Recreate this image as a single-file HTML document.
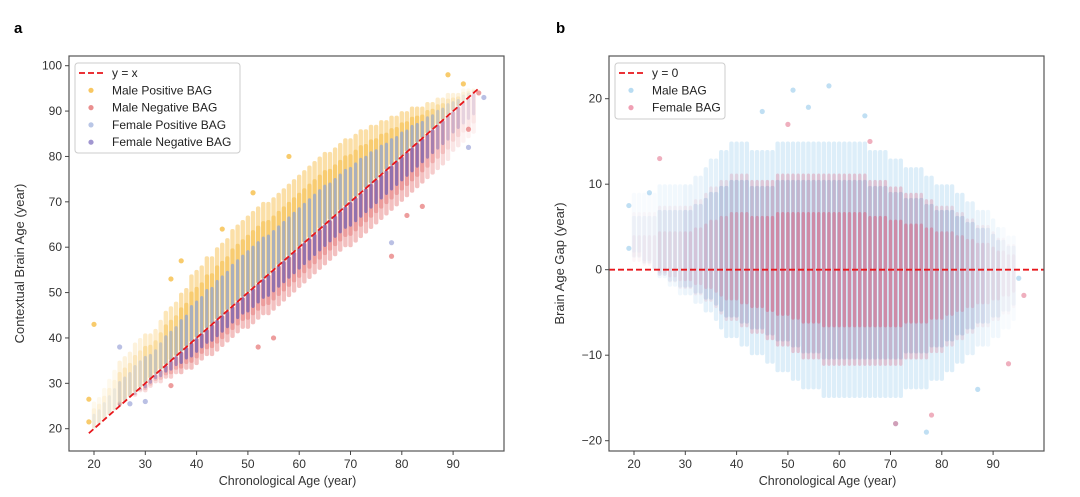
<!DOCTYPE html>
<html><head><meta charset="utf-8">
<style>
html,body{margin:0;padding:0;background:#fff;}
svg{display:block;font-family:"Liberation Sans","DejaVu Sans",sans-serif;}
</style></head>
<body>
<svg id="fig" width="1080" height="497" viewBox="0 0 1080 497">
<text x="14" y="33" font-size="15" font-weight="bold">a</text>
<text x="556" y="33" font-size="15" font-weight="bold">b</text>
<g id="pa"></g>
<g id="pb"></g>
</svg>
<script>
// shared ages (integer)
const ages=[20,21,22,23,24,25,26,27,28,29,30,31,32,33,34,35,36,37,38,39,40,41,42,43,44,45,46,47,48,49,50,51,52,53,54,55,56,57,58,59,60,61,62,63,64,65,66,67,68,69,70,71,72,73,74,75,76,77,78,79,80,81,82,83,84,85,86,87,88,89,90,91,92,93,94];
const counts=[1,1,1,1,1,2,2,2,2,2,3,3,3,3,4,4,4,5,5,6,6,7,7,8,8,8,9,9,9,10,10,10,10,10,10,10,10,10,10,10,10,10,10,10,10,10,10,10,10,10,10,10,10,9,9,9,8,8,8,7,7,6,6,5,5,4,4,3,3,2,2,2,1,1,1];
// panel a: upper edge of positive BAG, lower edge of negative BAG
const posHi=[26,27,29,31,33,35,36,37,39,40,41,41,42,44,46,47,48,50,51,54,55,56,58,58,60,61,62,64,65,66,67,68,69,70,70,71,72,73,74,75,76,77,78,79,80,81,81,82,83,84,84,85,86,86,87,87,88,88,89,89,90,90,91,91,91,92,92,93,93,94,94,94,95,95,95];
const negLo=[20,21,22,23,24,26,26,27,27,28,28,29,30,30,31,31,32,32,33,33,34,35,36,36,37,38,39,40,41,42,42,43,44,45,45,46,47,48,49,50,51,52,53,54,55,56,57,58,59,60,60,61,62,63,64,65,66,67,68,69,70,71,72,73,74,75,76,77,78,79,81,82,83,84,85];
const yTicksA=[20,30,40,50,60,70,80,90,100];
const xTicks=[20,30,40,50,60,70,80,90];
const outMalePos=[[20,43],[19,26.5],[19,21.5],[58,80],[89,98],[51,72],[92,96],[35,53],[37,57],[45,64]];
const outMaleNeg=[[95,94],[93,86],[84,69],[78,58],[55,40],[52,38],[35,29.5],[81,67]];
const outFem=[[25,38],[27,25.5],[30,26],[78,61],[96,93],[93,82]];
// panel b: BAG extents
const bagHi=[9,9,9,9,9,10,10,10,10,10,10,10,11,11,12,13,13,14,14,15,15,15,15,14,14,14,14,14,15,15,15,15,15,15,15,15,15,15,15,15,15,15,15,15,15,15,14,14,14,14,13,13,13,12,12,12,12,11,11,10,10,10,10,9,9,8,8,7,7,7,6,5,5,4,4];
const bagLo=[2,2,1,1,0,-1,-1,-2,-2,-3,-3,-3,-4,-4,-5,-5,-6,-7,-8,-8,-8,-9,-9,-10,-10,-10,-11,-11,-12,-12,-12,-13,-13,-14,-14,-14,-14,-15,-15,-15,-15,-15,-15,-15,-15,-15,-15,-15,-15,-15,-15,-15,-15,-14,-14,-14,-14,-14,-13,-13,-13,-12,-12,-11,-11,-10,-10,-9,-9,-9,-8,-8,-7,-7,-6];
const yTicksB=[-20,-10,0,10,20];
const outMaleB=[[58,21.5],[51,21],[19,7.5],[19,2.5],[23,9],[77,-19],[71,-18],[87,-14],[95,-1],[45,18.5],[54,19],[65,18]];
const outFemB=[[25,13],[78,-17],[96,-3],[93,-11],[71,-18],[50,17],[66,15]];

const NS='http://www.w3.org/2000/svg';
function mk(p,tag,at,txt){const e=document.createElementNS(NS,tag);for(const k in at)e.setAttribute(k,at[k]);if(txt!==undefined)e.textContent=txt;p.appendChild(e);return e;}
const XA=v=>94+(v-20)*5.13, YA=v=>428.7-(v-20)*4.5375;
const XB=v=>634+(v-20)*5.13, YB=v=>269.7-v*8.55;

function axes(g,x0,x1,y0,y1,X,Y,yt,xlab,ylab,pref){
  const box=mk(g,'rect',{x:x0,y:y0,width:x1-x0,height:y1-y0,fill:'none',stroke:'#555','stroke-width':1.2});
  
  xTicks.forEach(t=>{const x=X(t);mk(g,'line',{x1:x,x2:x,y1:y1,y2:y1+4,stroke:'#444'});
    const tx=mk(g,'text',{x:x,y:y1+17,'font-size':12,'text-anchor':'middle',fill:'#333'},t);
    });
  yt.forEach(t=>{const y=Y(t);mk(g,'line',{x1:x0-4,x2:x0,y1:y,y2:y,stroke:'#444'});
    const tx=mk(g,'text',{x:x0-7,y:y+4,'font-size':12,'text-anchor':'end',fill:'#333'},t<0?'\u2212'+(-t):t);
    });
  const xl=mk(g,'text',{x:(X(20)+X(90))/2+14,y:y1+34,'font-size':12.5,'text-anchor':'middle',fill:'#333'},xlab);
  
  const cy=(y0+y1)/2+10;
  const yl=mk(g,'text',{x:x0-45,y:cy,'font-size':13,'text-anchor':'middle',fill:'#333',transform:`rotate(-90 ${x0-45} ${cy})`},ylab);
  
}
function pt(g,x,y,fill,name){const c=mk(g,'circle',{cx:x,cy:y,r:2.6,fill:fill});}
function bar(g,x,w,ya,yb,fill,op,name){const r=mk(g,'rect',{x:x,y:Math.min(ya,yb),width:w,height:Math.abs(yb-ya),rx:2,fill:fill,'fill-opacity':op});}

// ---- panel a
const ga=document.getElementById('pa');
const sa=mk(ga,'g',{});
ages.forEach((a,i)=>{
  const x=XA(a)-2.2, w=4.4, al=Math.min(1,counts[i]/5);
  const span=posHi[i]-a, nspan=a-negLo[i];
  bar(sa,x,w,YA(posHi[i]),YA(a),'#f6b93b',0.45*al,'male-positive-stripe');
  bar(sa,x,w,YA(a+span*0.75),YA(a),'#f6b93b',0.5*al,'male-positive-core');
  bar(sa,x+0.6,w-1.2,YA(a+span*0.55),YA(a),'#8fa6d6',0.75*al,'female-positive-stripe');
  bar(sa,x,w,YA(a),YA(negLo[i]),'#e57373',0.45*al,'male-negative-stripe');
  bar(sa,x,w,YA(a),YA(a-nspan*0.75),'#e57373',0.45*al,'male-negative-core');
  bar(sa,x+0.6,w-1.2,YA(a),YA(a-nspan*0.55),'#7463b3',0.75*al,'female-negative-stripe');
});
outMalePos.forEach(p=>pt(sa,XA(p[0]),YA(p[1]),'rgba(246,185,59,0.75)','male-positive-point'));
outMaleNeg.forEach(p=>pt(sa,XA(p[0]),YA(p[1]),'rgba(229,115,115,0.7)','male-negative-point'));
outFem.forEach(p=>pt(sa,XA(p[0]),YA(p[1]),'rgba(140,150,210,0.6)','female-point'));
let ln=mk(ga,'line',{x1:XA(19),y1:YA(19),x2:XA(95),y2:YA(95),stroke:'#e8161b','stroke-width':1.8,'stroke-dasharray':'6,3'});

axes(ga,69,504,56,451,XA,YA,yTicksA,'Chronological Age (year)','Contextual Brain Age (year)','a');
// legend a
const la=mk(ga,'g',{});
mk(la,'rect',{x:75,y:63,width:165,height:90,rx:3,fill:'#fff','fill-opacity':0.85,stroke:'#ccc'});
mk(la,'line',{x1:79,x2:103,y1:73,y2:73,stroke:'#e8161b','stroke-width':1.8,'stroke-dasharray':'6,3'});
[['y = x',null],['Male Positive BAG','#f6b93b'],['Male Negative BAG','#e57373'],['Female Positive BAG','#a8b8e0'],['Female Negative BAG','#8a7cc4']].forEach((e,i)=>{
  const y=73+i*17.3;
  if(e[1])mk(la,'circle',{cx:91,cy:y,r:2.6,fill:e[1],'fill-opacity':0.8});
  const t=mk(la,'text',{x:112,y:y+4,'font-size':12,fill:'#222'},e[0]);
  
});

// ---- panel b
const gb=document.getElementById('pb');
const sb=mk(gb,'g',{});
ages.forEach((a,i)=>{
  const x=XB(a)-2.2,w=4.4,al=Math.min(1,counts[i]/5),al2=Math.min(1,counts[i]/9);
  const h=bagHi[i],l=bagLo[i];
  bar(sb,x,w,YB(h),YB(l),'#9fcdee',0.35*al,'male-bag-stripe');
  bar(sb,x,w,YB(h*0.7),YB(l*0.7),'#7fbbe6',0.4*al,'male-bag-core');
  bar(sb,x+0.5,w-1,YB(h*0.75),YB(l*0.75),'#e0607e',0.3*al2,'female-bag-stripe');
  bar(sb,x+0.5,w-1,YB(h*0.45),YB(l*0.45),'#dc5878',0.45*al2,'female-bag-core');
});
outMaleB.forEach(p=>pt(sb,XB(p[0]),YB(p[1]),'rgba(140,196,234,0.55)','male-bag-point'));
outFemB.forEach(p=>pt(sb,XB(p[0]),YB(p[1]),'rgba(224,96,126,0.5)','female-bag-point'));
ln=mk(gb,'line',{x1:609,y1:YB(0),x2:1044,y2:YB(0),stroke:'#e8161b','stroke-width':1.8,'stroke-dasharray':'6,3'});

axes(gb,609,1044,56,451,XB,YB,yTicksB,'Chronological Age (year)','Brain Age Gap (year)','b');
const lb=mk(gb,'g',{});
mk(lb,'rect',{x:615,y:63,width:110,height:56,rx:3,fill:'#fff','fill-opacity':0.85,stroke:'#ccc'});
mk(lb,'line',{x1:619,x2:643,y1:73,y2:73,stroke:'#e8161b','stroke-width':1.8,'stroke-dasharray':'6,3'});
[['y = 0',null],['Male BAG','#b8dcf2'],['Female BAG','#f0a0b4']].forEach((e,i)=>{
  const y=73+i*17.3;
  if(e[1])mk(lb,'circle',{cx:631,cy:y,r:2.6,fill:e[1]});
  const t=mk(lb,'text',{x:652,y:y+4,'font-size':12,fill:'#222'},e[0]);
  
});
</script>
</body></html>
